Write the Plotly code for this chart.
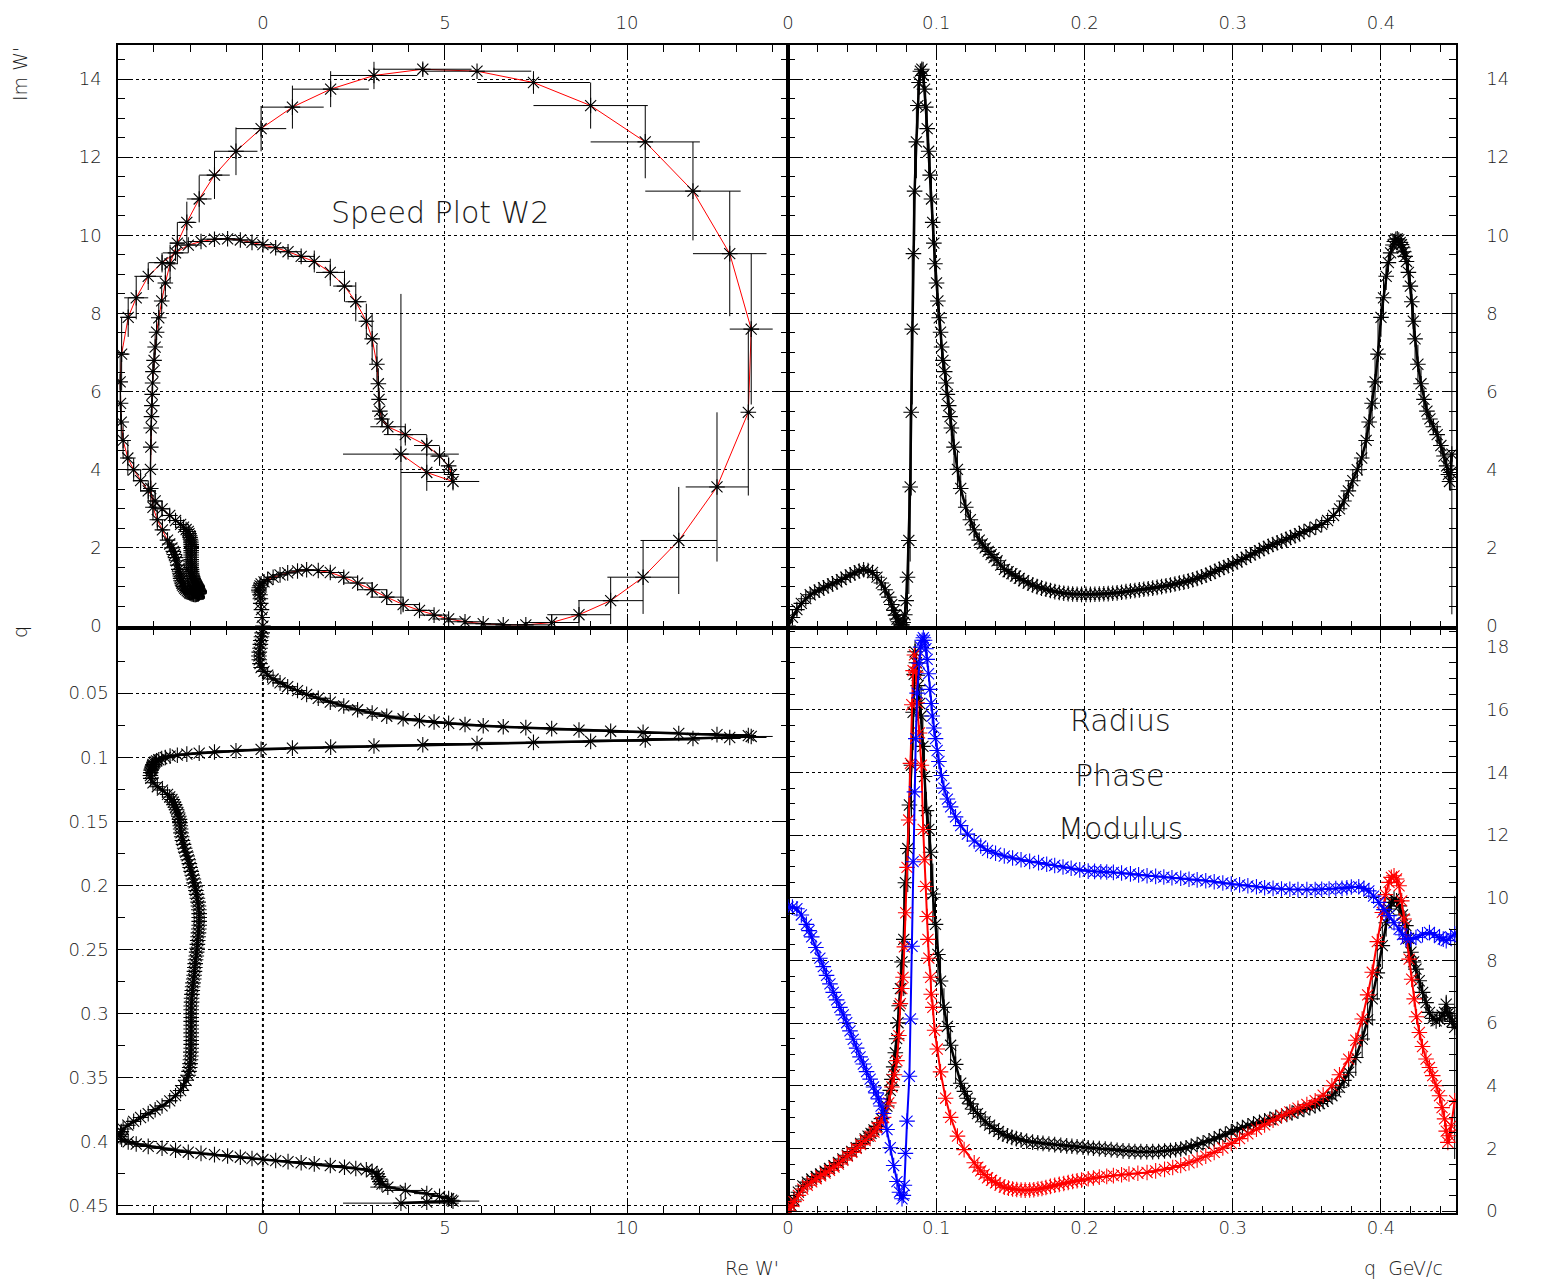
import plotly.graph_objects as go

# ---------------- data: Argand trajectory W'(q) ----------------
Q = [
    0.0000, 0.0030, 0.0060, 0.0090, 0.0120, 0.0150, 0.0180, 0.0210, 0.0240, 0.0270,
    0.0300, 0.0330, 0.0360, 0.0390, 0.0420, 0.0450, 0.0480, 0.0510, 0.0540, 0.0570,
    0.0600, 0.0630, 0.0655, 0.0680, 0.0700, 0.0715, 0.0725, 0.0735, 0.0745, 0.0755,
    0.0762, 0.0769,
    0.0777, 0.0788, 0.0797, 0.0806, 0.0815, 0.0824, 0.0831, 0.0838, 0.0846, 0.0854,
    0.0866, 0.0876, 0.0884, 0.0893, 0.0903, 0.0912, 0.0921, 0.0929, 0.0939, 0.0949,
    0.0959, 0.0968, 0.0976, 0.0984,
    0.0991, 0.1002, 0.1011, 0.1020, 0.1029, 0.1036, 0.1045, 0.1057, 0.1066, 0.1075,
    0.1084, 0.1093, 0.1102, 0.1120, 0.1143, 0.1165, 0.1199, 0.1230, 0.1256,
    0.1290, 0.1310, 0.1330, 0.1350, 0.1370, 0.1390, 0.1410, 0.1435, 0.1460, 0.1485,
    0.1510, 0.1535, 0.1560, 0.1590, 0.1620, 0.1650, 0.1680, 0.1710, 0.1740, 0.1770,
    0.180, 0.183, 0.186, 0.189, 0.192, 0.195, 0.198, 0.201, 0.204, 0.207,
    0.210, 0.213, 0.216, 0.219, 0.222, 0.225, 0.228, 0.231, 0.234, 0.237,
    0.240, 0.243, 0.246, 0.249, 0.252, 0.255, 0.258, 0.261, 0.264, 0.267,
    0.270, 0.273, 0.276, 0.279, 0.282, 0.285, 0.288, 0.291, 0.294, 0.297,
    0.300, 0.303, 0.306, 0.309, 0.312, 0.315, 0.318, 0.321, 0.324, 0.327,
    0.330, 0.333, 0.336, 0.339, 0.342, 0.345, 0.348,
    0.3520, 0.3560, 0.3600, 0.3640, 0.3680, 0.3720, 0.3750, 0.3780, 0.3810, 0.3840,
    0.3870, 0.3900, 0.3920, 0.3940, 0.3960, 0.3980, 0.4000,
    0.4017, 0.4035, 0.4050, 0.4065, 0.4081, 0.4090, 0.4100, 0.4110, 0.4120, 0.4130,
    0.4138, 0.4146, 0.4154, 0.4163, 0.4172, 0.4185, 0.4198, 0.4208, 0.4218, 0.4230,
    0.4249, 0.4270, 0.4290, 0.4310, 0.4330, 0.4353, 0.4379, 0.4404, 0.4425, 0.4443,
    0.4455, 0.4462, 0.4470, 0.4478,
]
RE = [
    0.00, -0.02, -0.04, -0.06, -0.07, -0.08, -0.10, -0.11, -0.10, -0.08,
    -0.05, 0.03, 0.13, 0.28, 0.47, 0.68, 0.95, 1.20, 1.52, 1.85,
    2.22, 2.60, 3.00, 3.40, 3.85, 4.30, 4.70, 5.10, 5.55, 6.05,
    6.60, 7.22,
    7.93, 8.68, 9.55, 10.44, 11.42, 12.47, 13.33, 13.41, 12.82, 11.81,
    10.50, 9.00, 7.43, 5.88, 4.39, 3.05, 1.86, 0.81, -0.05, -0.74,
    -1.33, -1.75, -2.09, -2.35,
    -2.55, -2.68, -2.78, -2.86, -2.92, -2.96, -2.99, -3.02, -3.03, -3.04,
    -3.05, -3.06, -3.07, -3.08, -3.09, -3.08, -3.02, -2.90, -2.76,
    -2.62, -2.56, -2.50, -2.46, -2.43, -2.40, -2.37, -2.34, -2.31, -2.29,
    -2.28, -2.27, -2.26, -2.25, -2.23, -2.21, -2.18, -2.15, -2.12, -2.08,
    -2.05, -2.02, -2.00, -1.97, -1.94, -1.91, -1.89, -1.86, -1.84, -1.82,
    -1.80, -1.78, -1.77, -1.76, -1.75, -1.75, -1.75, -1.75, -1.76, -1.77,
    -1.78, -1.79, -1.80, -1.81, -1.82, -1.83, -1.85, -1.86, -1.87, -1.88,
    -1.89, -1.90, -1.92, -1.93, -1.94, -1.95, -1.96, -1.96, -1.97, -1.97,
    -1.97, -1.97, -1.97, -1.97, -1.97, -1.97, -1.97, -1.97, -1.97, -1.97,
    -1.98, -1.98, -1.99, -2.00, -2.01, -2.03, -2.05,
    -2.11, -2.18, -2.26, -2.40, -2.56, -2.77, -2.96, -3.15, -3.36, -3.55,
    -3.71, -3.84, -3.89, -3.91, -3.92, -3.88, -3.70,
    -3.48, -3.15, -2.77, -2.40, -2.05, -1.70, -1.33, -0.97, -0.62, -0.30,
    0.00, 0.35, 0.69, 1.05, 1.41, 1.85, 2.24, 2.55, 2.84, 3.00,
    3.13, 3.17, 3.19, 3.21, 3.27, 3.43, 3.91, 4.50, 4.85, 5.10,
    5.18, 5.22, 4.50, 3.79,
]
IM = [
    0.00, 0.22, 0.42, 0.58, 0.70, 0.80, 0.87, 0.92, 0.98, 1.03,
    1.08, 1.13, 1.19, 1.25, 1.31, 1.36, 1.41, 1.44, 1.42, 1.37,
    1.25, 1.10, 0.93, 0.74, 0.55, 0.40, 0.28, 0.18, 0.11, 0.06,
    0.03, 0.03,
    0.09, 0.29, 0.65, 1.25, 2.19, 3.56, 5.47, 7.60, 9.53, 11.13,
    12.39, 13.32, 13.91, 14.20, 14.25, 14.09, 13.74, 13.28, 12.73, 12.15,
    11.54, 10.93, 10.33, 9.80,
    9.27, 8.78, 8.32, 7.89, 7.52, 7.14, 6.80, 6.51, 6.22, 5.93,
    5.64, 5.36, 5.07, 4.58, 4.01, 3.52, 3.04, 2.72, 2.46,
    2.20, 2.10, 2.00, 1.91, 1.83, 1.75, 1.67, 1.56, 1.45, 1.39,
    1.34, 1.28, 1.22, 1.16, 1.10, 1.05, 1.01, 0.97, 0.94, 0.91,
    0.88, 0.86, 0.84, 0.83, 0.82, 0.815, 0.81, 0.81, 0.81, 0.815,
    0.82, 0.825, 0.83, 0.84, 0.85, 0.865, 0.88, 0.895, 0.91, 0.925,
    0.94, 0.955, 0.97, 0.99, 1.01, 1.03, 1.05, 1.075, 1.10, 1.125,
    1.15, 1.185, 1.22, 1.26, 1.30, 1.35, 1.40, 1.45, 1.50, 1.545,
    1.59, 1.645, 1.70, 1.76, 1.82, 1.875, 1.93, 1.985, 2.04, 2.085,
    2.13, 2.175, 2.22, 2.265, 2.31, 2.365, 2.42,
    2.47, 2.53, 2.60, 2.70, 2.83, 3.00, 3.20, 3.46, 3.72, 4.00,
    4.30, 4.75, 5.22, 5.70, 6.25, 6.96, 7.90,
    8.40, 8.95, 9.30, 9.55, 9.75, 9.84, 9.90, 9.91, 9.88, 9.82,
    9.76, 9.68, 9.58, 9.46, 9.33, 9.05, 8.70, 8.30, 7.80, 7.35,
    6.70, 6.20, 5.80, 5.50, 5.30, 5.10, 4.90, 4.62, 4.35, 4.10,
    3.88, 3.70, 3.93, 4.40,
]
# error of the last point (no following point)
RE_ERR_LAST = 1.59
IM_ERR_LAST = 4.10

# ---------------- data: bottom-right panel ----------------
Q_MOD = [
    0.000, 0.002, 0.004, 0.007, 0.010, 0.013, 0.016, 0.019, 0.022, 0.025,
    0.028, 0.031, 0.034, 0.037, 0.040, 0.043, 0.046, 0.049, 0.052, 0.054,
    0.056, 0.058, 0.060, 0.063, 0.0667, 0.0690, 0.0701, 0.0713, 0.0724, 0.0733,
    0.0742, 0.0750, 0.0758, 0.0769, 0.0781, 0.0792, 0.0808, 0.0819, 0.0833, 0.0844,
    0.0851, 0.0857, 0.0866, 0.0872, 0.0878, 0.0888, 0.0898, 0.0910, 0.0921, 0.0934,
    0.0950, 0.0962, 0.0977, 0.0995, 0.1011, 0.1029, 0.1052, 0.1075, 0.1097, 0.1131,
    0.1165, 0.1190, 0.1210, 0.1230, 0.1250, 0.1278, 0.1300, 0.1330, 0.1360, 0.1391,
    0.1420, 0.1450, 0.1480, 0.1510, 0.1540, 0.1572, 0.1610, 0.1650, 0.1685, 0.1720,
    0.1760, 0.1799, 0.1840, 0.1880, 0.1915, 0.1950, 0.1990, 0.2025, 0.2060, 0.2100,
    0.2140, 0.2180, 0.2220, 0.2260, 0.2300, 0.2340, 0.2380, 0.2420, 0.2460, 0.2500,
    0.2540, 0.2580, 0.2615, 0.2649, 0.2685, 0.2720, 0.2760, 0.2800, 0.2840, 0.2875,
    0.2910, 0.2950, 0.2990, 0.3030, 0.3065, 0.3102, 0.3140, 0.3180, 0.3215, 0.3250,
    0.3290, 0.3329, 0.3365, 0.3400, 0.3440, 0.3480, 0.3520, 0.3556, 0.3585, 0.3610,
    0.3640, 0.3669, 0.3695, 0.3720, 0.3750, 0.3782, 0.3830, 0.3873, 0.3910, 0.3941,
    0.3975, 0.4009, 0.4035, 0.4054, 0.4070, 0.4088, 0.4105, 0.4122, 0.4145, 0.4168,
    0.4185, 0.4202, 0.4220, 0.4236, 0.4258, 0.4281, 0.4304, 0.4327, 0.4350, 0.4372,
    0.4395, 0.4412, 0.4429, 0.4440, 0.4452, 0.4463, 0.4480, 0.4497,
]
MODULUS = [
    0.00, 0.18, 0.35, 0.60, 0.80, 0.92, 1.02, 1.10, 1.18, 1.27,
    1.36, 1.45, 1.55, 1.66, 1.78, 1.90, 2.02, 2.16, 2.30, 2.39,
    2.48, 2.59, 2.70, 2.95, 3.35, 3.85, 4.20, 4.60, 5.05, 5.50,
    6.01, 6.55, 7.10, 7.95, 8.67, 10.48, 11.57, 12.96, 14.23, 15.92,
    17.13, 17.85, 17.50, 17.10, 16.77, 16.20, 15.80, 14.83, 13.87, 12.78,
    12.18, 11.45, 10.12, 9.15, 8.19, 7.34, 6.50, 5.89, 5.29, 4.68,
    4.08, 3.82, 3.60, 3.42, 3.25, 3.11, 3.00, 2.85, 2.74, 2.63,
    2.54, 2.45, 2.40, 2.35, 2.31, 2.27, 2.23, 2.20, 2.18, 2.16,
    2.14, 2.12, 2.10, 2.08, 2.065, 2.05, 2.035, 2.02, 2.005, 1.99,
    1.975, 1.96, 1.94, 1.92, 1.91, 1.90, 1.895, 1.89, 1.895, 1.90,
    1.915, 1.93, 1.955, 1.98, 2.02, 2.07, 2.12, 2.18, 2.24, 2.30,
    2.37, 2.45, 2.53, 2.60, 2.66, 2.72, 2.78, 2.83, 2.88, 2.93,
    2.99, 3.04, 3.085, 3.13, 3.185, 3.24, 3.30, 3.36, 3.43, 3.50,
    3.58, 3.68, 3.80, 3.95, 4.17, 4.43, 4.90, 5.49, 6.10, 6.77,
    7.60, 8.47, 9.20, 9.64, 9.85, 9.96, 9.90, 9.74, 9.45, 9.11,
    8.70, 8.26, 7.95, 7.72, 7.35, 6.98, 6.65, 6.34, 6.15, 6.07,
    6.12, 6.25, 6.34, 6.60, 6.30, 6.23, 6.05, 5.86,
]
MOD_ERR_LAST = 4.2

Q_RAD = [
    0.000, 0.002, 0.004, 0.007, 0.010, 0.013, 0.016, 0.019, 0.022, 0.025,
    0.028, 0.031, 0.034, 0.037, 0.040, 0.043, 0.046, 0.049, 0.052, 0.0554,
    0.058, 0.060, 0.0625, 0.0645, 0.0680, 0.0701, 0.0718, 0.0735, 0.0748, 0.0758,
    0.0768, 0.0776, 0.0785, 0.0794, 0.0803, 0.0814, 0.0826, 0.0835, 0.0844, 0.0853,
    0.0862, 0.0871, 0.0887, 0.0900, 0.0912, 0.0921, 0.0928, 0.0939, 0.0944, 0.0950,
    0.0962, 0.0966, 0.0977, 0.0989, 0.1007, 0.1029, 0.1063, 0.1097, 0.1143, 0.1188,
    0.1256, 0.1280, 0.1300, 0.1323, 0.1346, 0.1373, 0.1400, 0.1430, 0.1459, 0.1487,
    0.1515, 0.1543, 0.1572, 0.1600, 0.1630, 0.1658, 0.1686, 0.1713, 0.1740, 0.1770,
    0.1799, 0.1830, 0.1860, 0.1890, 0.1920, 0.1950, 0.1980, 0.2025, 0.2060, 0.2100,
    0.2150, 0.2195, 0.2250, 0.2300, 0.2360, 0.2422, 0.2480, 0.2540, 0.2595, 0.2649,
    0.2705, 0.2760, 0.2818, 0.2875, 0.2933, 0.2990, 0.3046, 0.3102, 0.3160, 0.3215,
    0.3272, 0.3329, 0.3385, 0.3440, 0.3500, 0.3556, 0.3610, 0.3669,
    0.3720, 0.3782, 0.3830, 0.3873, 0.3910, 0.3941, 0.3975, 0.4009, 0.4030, 0.4054,
    0.4070, 0.4088, 0.4105, 0.4122, 0.4140, 0.4156, 0.4172, 0.4190, 0.4207, 0.4224,
    0.4240, 0.4259, 0.4280, 0.4304, 0.4327, 0.4349, 0.4372, 0.4395, 0.4412, 0.4429,
    0.4440, 0.4451, 0.4462, 0.4474, 0.4497,
]
RADIUS = [
    0.00, 0.15, 0.30, 0.50, 0.70, 0.82, 0.93, 1.03, 1.12, 1.21,
    1.30, 1.40, 1.50, 1.62, 1.75, 1.87, 2.00, 2.12, 2.25, 2.39,
    2.52, 2.65, 2.82, 2.99, 3.45, 3.96, 4.35, 4.80, 5.60, 6.62,
    7.10, 7.46, 8.43, 9.52, 10.97, 12.48, 14.29, 16.16, 17.25, 17.75,
    17.20, 16.22, 15.26, 14.23, 12.18, 11.21, 10.36, 9.40, 8.67, 8.07,
    7.46, 6.92, 6.50, 5.77, 5.17, 4.44, 3.60, 2.99, 2.39, 1.96,
    1.54, 1.40, 1.28, 1.17, 1.06, 0.98, 0.90, 0.83, 0.76, 0.73,
    0.70, 0.685, 0.67, 0.665, 0.67, 0.68, 0.70, 0.72, 0.75, 0.785,
    0.82, 0.85, 0.88, 0.91, 0.94, 0.965, 0.99, 1.03, 1.055, 1.08,
    1.105, 1.13, 1.155, 1.18, 1.205, 1.23, 1.28, 1.33, 1.39, 1.45,
    1.54, 1.63, 1.75, 1.87, 2.01, 2.16, 2.31, 2.46, 2.61, 2.75,
    2.90, 3.04, 3.16, 3.28, 3.40, 3.52, 3.70, 4.00,
    4.35, 4.85, 5.45, 6.13, 6.90, 7.62, 8.60, 9.53, 10.10, 10.49,
    10.65, 10.70, 10.60, 10.38, 9.90, 9.32, 8.70, 8.04, 7.40, 6.77,
    6.20, 5.70, 5.25, 4.85, 4.58, 4.32, 4.00, 3.68, 3.30, 2.94,
    2.55, 2.19, 2.40, 2.72, 3.52,
]

Q_PHA = [
    0.0000, 0.0030, 0.0060, 0.0090, 0.0124, 0.0142, 0.0160, 0.0188, 0.0215, 0.0238,
    0.0260, 0.0283, 0.0305, 0.0328, 0.0350, 0.0373, 0.0396, 0.0418, 0.0440, 0.0463,
    0.0486, 0.0508, 0.0530, 0.0554, 0.0577, 0.0594, 0.0610, 0.0628, 0.0645, 0.0668,
    0.0690, 0.0713, 0.0735, 0.0752, 0.0769, 0.0778, 0.0785, 0.0792, 0.0803, 0.0819,
    0.0826, 0.0837, 0.0844, 0.0853, 0.0862, 0.0871, 0.0885, 0.0895, 0.0905, 0.0913,
    0.0921, 0.0930, 0.0939, 0.0948, 0.0957, 0.0965, 0.0973, 0.0984, 0.0995, 0.1006,
    0.1018, 0.1035, 0.1052, 0.1075, 0.1097, 0.1130, 0.1165, 0.1210, 0.1256, 0.1300,
    0.1346, 0.1400, 0.1459, 0.1515, 0.1572, 0.1630, 0.1690, 0.1745, 0.1799, 0.1855,
    0.1910, 0.1968, 0.2025, 0.2068, 0.2110, 0.2150, 0.2195, 0.2250, 0.2310, 0.2365,
    0.2422, 0.2480, 0.2535, 0.2590, 0.2649, 0.2705, 0.2760, 0.2818, 0.2875, 0.2933,
    0.2990, 0.3046, 0.3102, 0.3160, 0.3215, 0.3272, 0.3329, 0.3385, 0.3440, 0.3500,
    0.3556, 0.3600, 0.3650, 0.3695, 0.3737, 0.3770, 0.3800, 0.3850, 0.3885, 0.3918,
    0.3950, 0.3986, 0.4020, 0.4054, 0.4088, 0.4122, 0.4145, 0.4168, 0.4200, 0.4236,
    0.4280, 0.4327, 0.4360, 0.4395, 0.4420, 0.4440, 0.4470, 0.4497,
]
PHASE = [
    9.70, 9.70, 9.65, 9.45, 9.15, 8.95, 8.75, 8.41, 8.07, 7.80,
    7.52, 7.25, 6.98, 6.74, 6.50, 6.26, 6.01, 5.75, 5.48, 5.20,
    4.92, 4.69, 4.45, 4.21, 3.96, 3.77, 3.58, 3.35, 3.11, 2.60,
    2.02, 1.45, 0.94, 0.60, 0.39, 0.50, 0.82, 1.84, 2.87, 4.30,
    6.13, 8.45, 11.15, 13.38, 15.08, 16.53, 17.49, 18.00, 18.22, 18.30,
    18.22, 17.95, 17.61, 17.15, 16.65, 16.20, 15.80, 15.42, 15.08, 14.70,
    14.35, 13.90, 13.50, 13.15, 12.90, 12.58, 12.30, 12.03, 11.81, 11.65,
    11.51, 11.42, 11.33, 11.27, 11.21, 11.16, 11.12, 11.07, 11.03, 10.98,
    10.94, 10.89, 10.85, 10.84, 10.83, 10.82, 10.81, 10.79, 10.76, 10.73,
    10.70, 10.68, 10.66, 10.64, 10.62, 10.59, 10.57, 10.54, 10.51, 10.47,
    10.44, 10.41, 10.38, 10.35, 10.32, 10.30, 10.28, 10.27, 10.26, 10.26,
    10.26, 10.27, 10.28, 10.29, 10.30, 10.32, 10.34, 10.35, 10.30, 10.22,
    10.05, 9.85, 9.62, 9.43, 9.20, 9.00, 8.82, 8.68, 8.68, 8.73,
    8.82, 8.89, 8.82, 8.73, 8.68, 8.63, 8.75, 8.84,
]

assert len(Q) == len(RE) == len(IM), (len(Q), len(RE), len(IM))
assert len(Q_MOD) == len(MODULUS), (len(Q_MOD), len(MODULUS))
assert len(Q_RAD) == len(RADIUS), (len(Q_RAD), len(RADIUS))
assert len(Q_PHA) == len(PHASE), (len(Q_PHA), len(PHASE))

# error bars: distance to the following point
EX = [abs(RE[i + 1] - RE[i]) for i in range(len(RE) - 1)] + [RE_ERR_LAST]
EY = [abs(IM[i + 1] - IM[i]) for i in range(len(IM) - 1)] + [IM_ERR_LAST]
EM = [abs(MODULUS[i + 1] - MODULUS[i]) for i in range(len(MODULUS) - 1)] + [MOD_ERR_LAST]

# ---------------- layout geometry (page pixels) ----------------
PAGE_W, PAGE_H = 1554, 1287
BODY = 8                      # default page margin around the plot div
W, H = PAGE_W - 2 * BODY, PAGE_H - 2 * BODY
PL, PM, PR = 118, 788, 1456
PT, PMID, PB = 45, 628, 1213


def fx(p):
    return (p - BODY) / W


def fy(p):
    return 1 - (p - BODY) / H


FONT = "DejaVu Sans"
TXT = "#1a1a1a"
MSIZE = 13
BAND = 2.5   # width of the connecting line that thickens dense point runs
BAND_C = 2.0


def star(c):
    return dict(symbol="asterisk-open", size=MSIZE, color=c,
                line=dict(color=c, width=1.1))


def err(arr):
    return dict(type="data", array=arr, symmetric=True, width=0,
                thickness=1, color="black")


fig = go.Figure()

# top-left: Argand plot
fig.add_trace(go.Scatter(x=RE, y=IM, mode="lines", line=dict(color="red", width=1),
                         xaxis="x", yaxis="y", hoverinfo="skip"))
fig.add_trace(go.Scatter(x=RE, y=IM, mode="markers", marker=star("black"),
                         error_x=err(EX), error_y=err(EY), xaxis="x", yaxis="y"))

# top-right: Im vs q
fig.add_trace(go.Scatter(x=Q, y=IM, mode="lines", line=dict(color="red", width=1),
                         xaxis="x2", yaxis="y2", hoverinfo="skip"))
fig.add_trace(go.Scatter(x=Q, y=IM, mode="lines+markers",
                         line=dict(color="black", width=BAND), marker=star("black"),
                         error_y=err(EY), xaxis="x2", yaxis="y2"))

# bottom-left: q vs Re
fig.add_trace(go.Scatter(x=RE, y=Q, mode="lines", line=dict(color="red", width=1),
                         xaxis="x3", yaxis="y3", hoverinfo="skip"))
fig.add_trace(go.Scatter(x=RE, y=Q, mode="lines+markers",
                         line=dict(color="black", width=BAND), marker=star("black"),
                         error_x=err(EX), xaxis="x3", yaxis="y3"))

# bottom-right: modulus, radius, phase
fig.add_trace(go.Scatter(x=Q_MOD, y=MODULUS, mode="lines+markers",
                         line=dict(color="black", width=BAND), marker=star("black"),
                         error_y=err(EM), xaxis="x4", yaxis="y4"))
fig.add_trace(go.Scatter(x=Q_RAD, y=RADIUS, mode="lines+markers",
                         line=dict(color="red", width=BAND_C), marker=star("red"),
                         xaxis="x4", yaxis="y4"))
fig.add_trace(go.Scatter(x=Q_PHA, y=PHASE, mode="lines+markers",
                         line=dict(color="blue", width=BAND_C), marker=star("blue"),
                         xaxis="x4", yaxis="y4"))


def axis(domain, rng, dtick, minor, anchor, side, tickvals=None, standoff=6):
    a = dict(domain=domain, range=rng, anchor=anchor, side=side,
             showline=True, linecolor="black", linewidth=1.5, mirror="allticks",
             ticks="inside", ticklen=14, tickwidth=1.2, tickcolor="black",
             showgrid=True, gridcolor="black", griddash="dot", gridwidth=1,
             zeroline=False, dtick=dtick, tick0=0,
             minor=dict(ticks="inside", ticklen=7, tickwidth=1, tickcolor="black",
                        dtick=minor, tick0=0, showgrid=False),
             showticklabels=True, ticklabelstandoff=standoff,
             tickfont=dict(family=FONT, size=18, color=TXT, weight=200))
    if tickvals is not None:
        a["tickmode"] = "array"
        a["tickvals"] = tickvals
        a["ticktext"] = [f"{v:g}" for v in tickvals]
    return a


X_LEFT = [fx(PL), fx(PM)]
X_RIGHT = [fx(PM), fx(PR)]
Y_TOP = [fy(PMID), fy(PT)]
Y_BOT = [fy(PB), fy(PMID)]

RE_RANGE = [-3.98, 14.42]
IM_RANGE = [-0.05, 14.87]
Q_RANGE = [0.0, 0.4506]
QREV_RANGE = [0.4555, -0.0008]
BR_RANGE = [-0.064, 18.61]
Q_TICKS = [0.05, 0.1, 0.15, 0.2, 0.25, 0.3, 0.35, 0.4, 0.45]

fig.update_layout(
    width=W, height=H, margin=dict(l=0, r=0, t=0, b=0, autoexpand=False),
    paper_bgcolor="white", plot_bgcolor="white", showlegend=False,
    xaxis=axis(X_LEFT, RE_RANGE, 5, 1, "y", "top", standoff=7),
    yaxis=axis(Y_TOP, IM_RANGE, 2, 0.5, "x", "left", standoff=11),
    xaxis2=axis(X_RIGHT, Q_RANGE, 0.1, 0.02, "y2", "top", standoff=7),
    yaxis2=axis(Y_TOP, IM_RANGE, 2, 0.5, "x2", "right", standoff=25),
    xaxis3=axis(X_LEFT, RE_RANGE, 5, 1, "y3", "bottom", standoff=-2),
    yaxis3=axis(Y_BOT, QREV_RANGE, 0.05, 0.025, "x3", "left",
                tickvals=Q_TICKS, standoff=4),
    xaxis4=axis(X_RIGHT, Q_RANGE, 0.1, 0.02, "y4", "bottom", standoff=-2),
    yaxis4=axis(Y_BOT, BR_RANGE, 2, 0.5, "x4", "right", standoff=25),
)

# darker Re = 0 line in the bottom-left panel
fig.add_shape(type="line", xref="x3", yref="y3", x0=0, x1=0,
              y0=QREV_RANGE[1], y1=QREV_RANGE[0],
              line=dict(color="black", width=2, dash="dot"), layer="below")


def note(text, x, y, size, angle=0):
    fig.add_annotation(text=text, x=fx(x), y=fy(y), xref="paper", yref="paper",
                       showarrow=False, textangle=angle, xanchor="center",
                       yanchor="middle",
                       font=dict(family=FONT, size=size, color=TXT, weight=200))


note("Speed Plot W2", 440, 212, 30)
note("Radius", 1120, 720, 30)
note("Phase", 1120, 775, 30)
note("Modulus", 1120, 828, 30)
note("Im W'", 20, 74, 19, angle=-90)
note("q", 20, 632, 19, angle=-90)
note("Re W'", 752, 1268, 19)
note("q  GeV/c", 1403, 1268, 19)

fig.write_html("out.html")
